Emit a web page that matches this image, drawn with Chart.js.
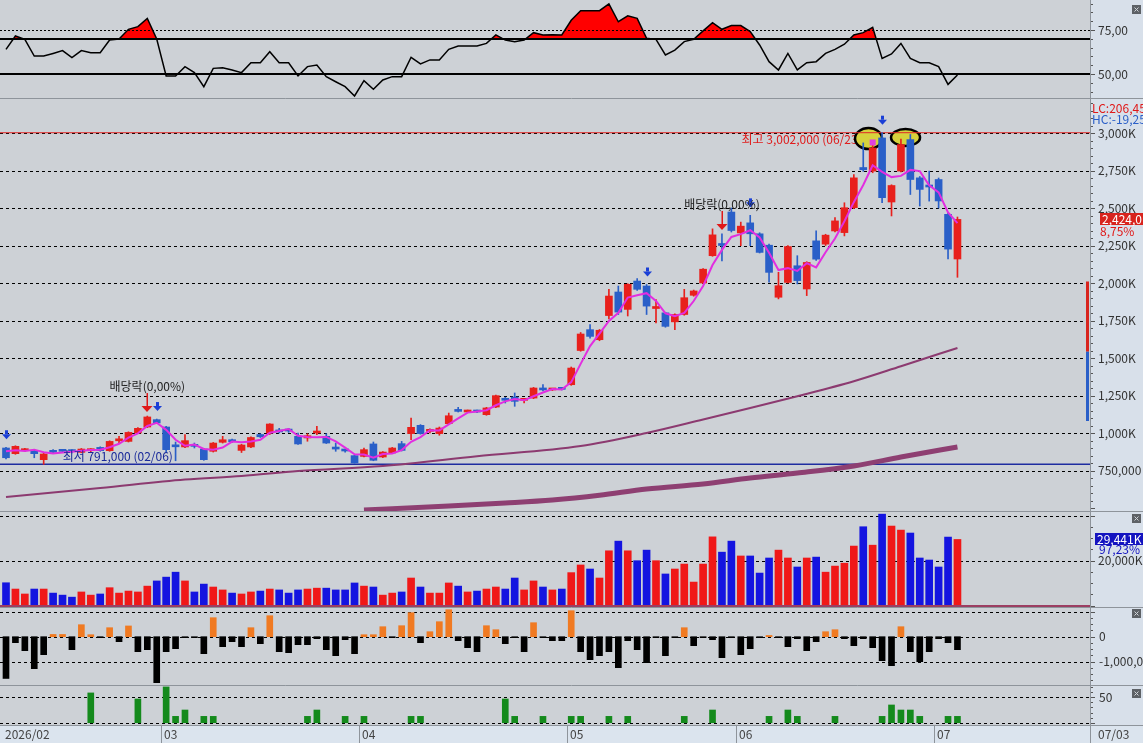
<!DOCTYPE html>
<html>
<head>
<meta charset="utf-8">
<title>price chart</title>
<script src="https://cdn.jsdelivr.net/npm/chart.js@4.4.1/dist/chart.umd.min.js"></script>
<style>
  html, body { margin: 0; padding: 0; background: #cdd1d6; overflow: hidden; }
  #wrap { position: relative; width: 1143px; height: 743px; }
  canvas { position: absolute; left: 0; }
</style>
</head>
<body>
<div id="wrap">
  <canvas id="rsiChart" width="1143" height="99" style="top:0px"></canvas>
  <canvas id="priceChart" width="1143" height="412" style="top:99px"></canvas>
  <canvas id="volChart" width="1143" height="96" style="top:511px"></canvas>
  <canvas id="flowChart" width="1143" height="78" style="top:607px"></canvas>
  <canvas id="tradeChart" width="1143" height="58" style="top:685px"></canvas>
</div>
<script>
// daily candles, prices in thousand won (2026/02/02 .. 2026/07/03)
var opens = [900,862,882,882,822,878,885,884,871,882,
  904,882,948,944,1000,1040,1089,1040,915,907,
  920,893,878,938,955,884,907,990,1000,1013,
  1020,978,967,1000,978,900,888,849,844,927,
  840,867,929,996,1051,1011,996,1062,1149,1140,
  1149,1122,1173,1227,1240,1218,1233,1295,1287,1296,
  1322,1550,1689,1622,1783,1940,1824,2013,1980,1830,
  1801,1741,1790,1918,2000,2182,2258,2473,2334,2401,
  2328,2252,1905,2004,2115,1960,2281,2259,2347,2336,
  2502,2770,2746,2967,2540,2746,2956,2701,2650,2690,
  2458,2160];
var highs = [905,915,897,886,865,890,890,890,897,896,
  908,948,978,1008,1036,1113,1093,1044,940,989,
  933,897,937,978,960,925,975,995,1062,1031,
  1031,1000,995,1044,995,933,893,852,900,940,
  876,904,944,1100,1056,1027,1040,1133,1171,1153,
  1153,1171,1253,1238,1267,1228,1304,1322,1297,1300,
  1440,1670,1723,1690,1957,1980,1995,2030,1990,1890,
  1805,1794,1958,1953,2096,2361,2327,2500,2406,2451,
  2335,2260,2071,2250,2182,2142,2347,2325,2436,2535,
  2723,2934,2950,3002,2655,2960,2990,2710,2746,2700,
  2465,2440];
var lows = [828,858,878,835,791,866,872,868,868,876,
  878,878,930,940,996,1036,1062,873,815,903,
  900,818,873,933,938,870,903,970,990,1000,
  1004,924,945,989,930,878,873,798,840,815,
  836,863,880,955,992,1000,985,1058,1140,1136,
  1136,1118,1169,1200,1178,1200,1229,1280,1283,1287,
  1318,1545,1633,1615,1760,1790,1780,1950,1790,1734,
  1705,1689,1785,1912,1995,2178,2148,2340,2249,2249,
  2200,2005,1894,2000,1994,1916,2150,2250,2340,2314,
  2495,2745,2735,2535,2447,2740,2590,2513,2546,2500,
  2160,2038];
var closes = [835,911,893,862,860,871,878,876,893,889,
  882,944,958,1004,1031,1107,1067,889,908,949,
  911,822,933,955,942,920,970,975,1060,1007,
  1013,927,982,1006,933,893,880,800,889,818,
  873,900,884,1038,996,1022,1033,1115,1144,1149,
  1140,1167,1249,1218,1211,1224,1300,1287,1293,1291,
  1433,1660,1644,1685,1913,1806,1991,1958,1846,1836,
  1711,1790,1902,1947,2092,2321,2250,2350,2379,2328,
  2204,2071,1982,2243,2016,2137,2159,2319,2414,2502,
  2701,2755,2900,2569,2650,2923,2690,2624,2640,2547,
  2226,2424];

// short moving average (magenta)
var maShort = [878,885,880,889,872,864,870,875,882,886,
  888,905,928,969,998,1047,1068,1021,955,915,
  923,894,889,903,943,939,944,955,1002,1014,
  1027,982,974,972,974,944,902,858,856,836,
  860,864,886,941,973,1019,1017,1057,1097,1136,
  1144,1152,1185,1211,1226,1218,1245,1270,1293,1290,
  1339,1461,1579,1663,1747,1801,1903,1918,1932,1880,
  1798,1779,1801,1880,1980,2120,2221,2307,2326,2352,
  2304,2201,2086,2099,2080,2132,2104,2205,2297,2412,
  2539,2653,2785,2741,2706,2714,2754,2746,2651,2604,
  2471,2399];

// long averages, read at a few days
var maMidAt = [0,10,19,25,31,40,50,61,68,74,79,84,90,95,101];
var maMid = [573,633,690,713,747,780,845,913,1000,1090,1167,1245,1345,1445,1567];
var maLongAt = [38,47,53,58,63,68,74,79,84,90,95,101];
var maLong = [487,513,533,553,585,627,660,700,733,780,840,907];

// volume in thousand shares
var volumes = [10200,7400,5200,7400,7400,5600,4700,3800,6100,4700,
  5200,8000,5600,6500,6100,8700,11000,12700,14900,11000,
  6100,9600,8300,7000,5600,5200,6100,6500,7400,7000,
  5600,7000,7400,7800,7800,7000,7000,10100,8700,8300,
  4700,5600,6100,12300,8300,5600,5600,10100,8700,6100,
  6500,7400,8300,7400,12300,7000,11000,8300,7000,7400,
  14700,18100,16300,12300,24400,28700,24400,20000,24700,20000,
  14100,16300,18500,10500,18500,30600,23800,28700,22100,22100,
  14500,21200,24700,21200,17200,21200,21600,14900,17600,18900,
  26500,35100,26900,40700,35400,33600,32300,21200,20300,17200,
  30500,29441];

// net buying, thousands
var flowK = [-1670,-240,-560,-1280,-720,90,90,-520,480,80,
  -40,360,-200,430,-600,-520,-1840,-600,-480,-40,
  -20,-680,760,-400,-200,-400,360,-280,840,-600,
  -640,-320,-320,-80,-520,-760,-120,-680,80,80,
  400,-40,440,960,-240,200,600,1080,-160,-440,
  -600,440,280,-280,-40,-600,560,-40,-160,-160,
  1040,-600,-920,-760,-600,-1240,-160,-520,-1040,-40,
  -760,-40,360,-360,-40,-120,-840,-40,-720,-480,
  -40,50,-40,-400,-80,-560,-200,200,280,-80,
  -360,-80,-440,-960,-1160,400,-600,-1000,-600,-80,
  -240,-520];

var tradeAt = [9,14,17,18,19,21,22,32,33,36,38,43,44,53,54,57,60,61,64,66,72,75,81,83,84,88,93,94,95,96,97,100,101];
var tradeVal = [58.6,46.7,70.4,12.5,25,12.5,12.5,12.5,25,12.5,12.5,12.5,12.5,46.7,12.5,12.5,12.5,12.5,12.5,12.5,12.5,25,12.5,25,12.5,12.5,12.5,34.9,25,25,12.5,12.5,12.5];

var rsi = [64.0,71.6,69.7,60.2,60.2,61.7,63.3,59.3,63.3,62.1,
  62.1,69.3,69.9,75.4,76.9,81.6,69.9,48.9,48.9,54.2,
  50.8,42.8,53.2,53.6,52.3,50.8,56.4,56.4,62.7,56.4,
  56.4,48.9,54.2,55.1,48.5,45.6,42.8,37.5,46.2,41.3,
  46.6,48.5,48.5,59.5,55.7,58.0,58.0,64.0,65.9,65.9,
  65.9,67.4,72.2,69.3,68.4,69.3,73.5,72.2,72.3,72.2,
  80.5,86.0,86.0,86.0,89.8,79.7,83.1,81.6,70.3,69.7,
  60.8,63.6,68.4,69.7,74.5,79.2,75.4,77.5,77.5,74.1,
  66.5,57.0,52.3,61.7,52.3,56.4,57.0,61.7,64.0,66.9,
  72.2,73.5,76.5,58.9,61.4,67.4,58.9,56.4,56.4,54.2,
  44.1,49.4];

var priceTicks = [750,1000,1250,1500,1750,2000,2250,2500,2750,3000];
var monthStarts = [0,17,38,60,78,99];
var monthLabels = ['2026/02','03','04','05','06','07'];
var highMark = 3002, lowMark = 791;
var blueArrows = [0,16,68,79,93];
var redArrows = [15,76];
var rangeBar = [1080,1542,2010];

var RED = '#e8201c', BLUE = '#2a5fc8';
var VRED = '#f01818', VBLUE = '#1414e0';
var PLOT_BG = '#cdd1d6', AXIS_BG = '#d8e0ea', STRIP_BG = '#dbe4ee', SEP = '#8e949b';
var FONT = "12px 'Noto Sans CJK KR', 'DejaVu Sans', sans-serif";
var TXT = '#333333';

var idx = closes.map(function (c, i) { return i; });
var isUp = closes.map(function (c, i) { return c >= opens[i]; });
var candleColors = isUp.map(function (u) { return u ? RED : BLUE; });

function baseOptions(yMin, yMax, bottomPad) {
  return {
    responsive: false,
    animation: false,
    devicePixelRatio: 1,
    events: [],
    layout: { padding: { left: 0, right: 53, top: 0, bottom: bottomPad || 0 } },
    plugins: { legend: { display: false }, tooltip: { enabled: false } },
    scales: {
      x: { type: 'linear', min: -0.637, max: 115.07, offset: false, display: false },
      y: { min: yMin, max: yMax, display: false }
    }
  };
}

function paintPane(c) {
  var ctx = c.ctx, a = c.chartArea;
  ctx.save();
  ctx.fillStyle = AXIS_BG;
  ctx.fillRect(a.right, 0, c.width - a.right, c.height);
  ctx.fillStyle = PLOT_BG;
  ctx.fillRect(0, a.top, a.right, a.bottom - a.top);
  ctx.restore();
}

function hLine(c, v, color, width, dash) {
  var ctx = c.ctx, a = c.chartArea;
  var y = c.scales.y.getPixelForValue(v);
  y = width % 2 ? Math.round(y) + 0.5 : Math.round(y);
  ctx.save();
  ctx.strokeStyle = color;
  ctx.lineWidth = width;
  ctx.setLineDash(dash || []);
  ctx.beginPath();
  ctx.moveTo(a.left, y);
  ctx.lineTo(a.right, y);
  ctx.stroke();
  ctx.restore();
}

function label(ctx, text, x, y, color, align) {
  ctx.save();
  ctx.font = FONT;
  ctx.fillStyle = color;
  ctx.textAlign = align || 'left';
  ctx.textBaseline = 'middle';
  ctx.fillText(text, x, y);
  ctx.restore();
}

function axisTicks(c, step, major) {
  var ctx = c.ctx, a = c.chartArea, s = c.scales.y;
  ctx.save();
  ctx.strokeStyle = '#555';
  ctx.lineWidth = 1;
  ctx.beginPath();
  for (var v = Math.ceil(s.min / step) * step; v <= s.max; v += step) {
    var y = Math.round(s.getPixelForValue(v)) + 0.5;
    var len = Math.abs(v % major) < 1e-6 ? 5 : 3;
    ctx.moveTo(a.right, y);
    ctx.lineTo(a.right + len, y);
  }
  ctx.stroke();
  ctx.restore();
}

function frame(c, withTop) {
  var ctx = c.ctx, a = c.chartArea;
  ctx.save();
  ctx.strokeStyle = SEP;
  ctx.lineWidth = 1;
  ctx.beginPath();
  ctx.moveTo(a.right + 0.5, 0);
  ctx.lineTo(a.right + 0.5, c.height);
  if (withTop) {
    ctx.moveTo(0, 0.5);
    ctx.lineTo(c.width, 0.5);
  }
  ctx.stroke();
  ctx.restore();
}

function closeIcon(ctx, x, y) {
  ctx.save();
  ctx.fillStyle = '#5d6166';
  ctx.fillRect(x, y, 9, 9);
  ctx.strokeStyle = '#d0d4d8';
  ctx.lineWidth = 1;
  ctx.beginPath();
  ctx.moveTo(x + 2.5, y + 2.5); ctx.lineTo(x + 6.5, y + 6.5);
  ctx.moveTo(x + 6.5, y + 2.5); ctx.lineTo(x + 2.5, y + 6.5);
  ctx.stroke();
  ctx.restore();
}

function priceLabel(v) {
  return v >= 1000 ? (v / 1000).toFixed(3).replace('.', ',') + 'K' : v + ',000';
}

// ---------- top oscillator ----------
var rsiDecor = {
  id: 'rsiDecor',
  beforeDraw: function (c) { paintPane(c); },
  afterDatasetsDraw: function (c) {
    hLine(c, 75, '#000', 1, [2, 2]);
    hLine(c, 70, '#000', 2);
    hLine(c, 50, '#000', 2);
  },
  afterDraw: function (c) {
    var ctx = c.ctx, a = c.chartArea, s = c.scales.y;
    axisTicks(c, 5, 25);
    label(ctx, '75,00', a.right + 8, s.getPixelForValue(75), TXT);
    label(ctx, '50,00', a.right + 8, s.getPixelForValue(50), TXT);
    ctx.save();
    ctx.strokeStyle = SEP;
    ctx.beginPath();
    ctx.moveTo(0, c.height - 0.5);
    ctx.lineTo(c.width, c.height - 0.5);
    ctx.stroke();
    ctx.restore();
    frame(c, false);
    closeIcon(ctx, a.right + 42, 5);
  }
};

new Chart('rsiChart', {
  type: 'line',
  data: {
    datasets: [{
      data: rsi.map(function (v, i) { return { x: i, y: v }; }),
      borderColor: '#000',
      borderWidth: 1.5,
      pointRadius: 0,
      tension: 0,
      fill: { target: { value: 70 }, above: '#ff0000', below: 'rgba(0,0,0,0)' }
    }]
  },
  options: baseOptions(35.8, 92.05, 0),
  plugins: [rsiDecor]
});

// ---------- price ----------
function blueArrow(ctx, x, tip) {
  ctx.fillStyle = '#1a3fd6';
  ctx.fillRect(x - 1.5, tip - 9, 3, 4);
  ctx.beginPath();
  ctx.moveTo(x - 4.5, tip - 5);
  ctx.lineTo(x + 4.5, tip - 5);
  ctx.lineTo(x, tip);
  ctx.closePath();
  ctx.fill();
}

function redArrow(ctx, x, tip) {
  ctx.fillStyle = '#e01818';
  ctx.fillRect(x - 0.5, tip - 19, 1.5, 14);
  ctx.beginPath();
  ctx.moveTo(x - 5.5, tip - 6);
  ctx.lineTo(x + 5.5, tip - 6);
  ctx.lineTo(x, tip);
  ctx.closePath();
  ctx.fill();
}

var priceDecor = {
  id: 'priceDecor',
  beforeDraw: function (c) {
    paintPane(c);
    priceTicks.forEach(function (v) { hLine(c, v, '#000', 1, [3, 3]); });
  },
  beforeDatasetsDraw: function (c) {
    var ctx = c.ctx, x = c.scales.x, y = c.scales.y;
    label(ctx, '최고 3,002,000 (06/23)', x.getPixelForValue(92) - 11, y.getPixelForValue(highMark) + 7, '#e01a1a', 'right');
    ctx.save();
    ctx.fillStyle = '#d6d23c';
    ctx.strokeStyle = '#000';
    ctx.lineWidth = 2.5;
    ctx.beginPath();
    ctx.ellipse(x.getPixelForValue(91.56), y.getPixelForValue(2963), 13.5, 10.5, 0, 0, Math.PI * 2);
    ctx.fill();
    ctx.stroke();
    ctx.beginPath();
    ctx.ellipse(x.getPixelForValue(95.49), y.getPixelForValue(2970), 14.5, 8.5, 0, 0, Math.PI * 2);
    ctx.fill();
    ctx.stroke();
    ctx.restore();
  },
  afterDatasetsDraw: function (c) {
    var ctx = c.ctx, a = c.chartArea, x = c.scales.x, y = c.scales.y;
    ctx.save();
    blueArrows.forEach(function (i) {
      blueArrow(ctx, Math.round(x.getPixelForValue(i)) + 0.5, y.getPixelForValue(highs[i]) - 8);
    });
    redArrows.forEach(function (i) {
      redArrow(ctx, Math.round(x.getPixelForValue(i)), y.getPixelForValue(highs[i]) - 4);
    });
    ctx.fillStyle = '#e040e0';
    ctx.fillRect(x.getPixelForValue(92) - 3, y.getPixelForValue(2937) - 3, 6, 6);
    ctx.restore();

    redArrows.forEach(function (i) {
      label(ctx, '배당락(0,00%)', x.getPixelForValue(i), y.getPixelForValue(highs[i]) - 30, '#222', 'center');
    });
    label(ctx, '최저 791,000 (02/06)', x.getPixelForValue(4) + 19, y.getPixelForValue(lowMark) - 8, '#1a2a9a');

    // day range marker on the right edge
    ctx.save();
    ctx.fillStyle = '#d8241e';
    ctx.fillRect(a.right - 4, y.getPixelForValue(rangeBar[2]), 3, y.getPixelForValue(rangeBar[1]) - y.getPixelForValue(rangeBar[2]));
    ctx.fillStyle = '#2a5fc8';
    ctx.fillRect(a.right - 4, y.getPixelForValue(rangeBar[1]), 3, y.getPixelForValue(rangeBar[0]) - y.getPixelForValue(rangeBar[1]));
    ctx.restore();
  },
  afterDraw: function (c) {
    var ctx = c.ctx, a = c.chartArea, y = c.scales.y;
    axisTicks(c, 50, 250);
    priceTicks.forEach(function (v) {
      label(ctx, priceLabel(v), a.right + 8, y.getPixelForValue(v), TXT);
    });
    label(ctx, 'LC:206,45', a.right + 2, 9, '#e01818');
    label(ctx, 'HC:-19,25', a.right + 2, 20, '#2a5fc8');
    var last = closes[closes.length - 1];
    var py = y.getPixelForValue(last);
    ctx.save();
    ctx.fillStyle = '#d8241e';
    ctx.fillRect(a.right + 10, Math.round(py) - 6, 43, 12);
    ctx.restore();
    label(ctx, '2,424,0', a.right + 12, py, '#ffffff');
    label(ctx, '8,75%', a.right + 10, py + 12, '#e01818');
    frame(c, false);
  }
};

new Chart('priceChart', {
  type: 'bar',
  data: {
    datasets: [
      {
        type: 'line', order: 1,
        data: maShort.map(function (v, i) { return { x: i, y: v }; }),
        borderColor: '#e22ee0', borderWidth: 2, pointRadius: 0, tension: 0
      },
      {
        type: 'line', order: 1,
        data: maMidAt.map(function (d, k) { return { x: d, y: maMid[k] }; }),
        borderColor: '#8c3a70', borderWidth: 2, pointRadius: 0, cubicInterpolationMode: 'monotone'
      },
      {
        type: 'line', order: 1,
        data: maLongAt.map(function (d, k) { return { x: d, y: maLong[k] }; }),
        borderColor: '#8e3f72', borderWidth: 5, pointRadius: 0, cubicInterpolationMode: 'monotone'
      },
      {
        type: 'line', order: 5,
        data: [{ x: -1, y: highMark }, { x: 117, y: highMark }],
        borderColor: '#e02828', borderWidth: 1, pointRadius: 0
      },
      {
        type: 'line', order: 5,
        data: [{ x: -1, y: lowMark }, { x: 117, y: lowMark }],
        borderColor: '#1e2ca0', borderWidth: 1.5, pointRadius: 0
      },
      {
        order: 3, grouped: false,
        data: idx.map(function (i) { return { x: i, y: [lows[i], highs[i]] }; }),
        backgroundColor: candleColors, barThickness: 1, borderWidth: 0
      },
      {
        order: 2, grouped: false,
        data: idx.map(function (i) { return { x: i, y: [Math.min(opens[i], closes[i]), Math.max(opens[i], closes[i])] }; }),
        backgroundColor: candleColors, barThickness: 7, minBarLength: 2, borderWidth: 0
      }
    ]
  },
  options: baseOptions(480, 3226.7, 0),
  plugins: [priceDecor]
});

// ---------- volume ----------
var volDecor = {
  id: 'volDecor',
  beforeDraw: function (c) {
    paintPane(c);
    hLine(c, 20000, '#000', 1, [3, 3]);
    hLine(c, 40000, '#000', 1, [3, 3]);
  },
  afterDatasetsDraw: function (c) { hLine(c, 0, '#9c3e62', 2); },
  afterDraw: function (c) {
    var ctx = c.ctx, a = c.chartArea, y = c.scales.y;
    axisTicks(c, 5000, 20000);
    label(ctx, '20,000K', a.right + 8, y.getPixelForValue(20000), TXT);
    var vy = y.getPixelForValue(volumes[volumes.length - 1]);
    ctx.save();
    ctx.fillStyle = AXIS_BG;
    ctx.fillRect(a.right + 6, Math.round(vy) + 5, 46, 11);
    ctx.fillStyle = '#1414c0';
    ctx.fillRect(a.right + 5, Math.round(vy) - 6, 48, 12);
    ctx.restore();
    label(ctx, '29,441K', a.right + 7, vy, '#ffffff');
    label(ctx, '97,23%', a.right + 9, vy + 10, '#1414c0');
    frame(c, true);
    closeIcon(ctx, a.right + 42, 3);
  }
};

new Chart('volChart', {
  type: 'bar',
  data: {
    datasets: [{
      data: volumes.map(function (v, i) { return { x: i, y: v }; }),
      backgroundColor: isUp.map(function (u) { return u ? VRED : VBLUE; }),
      barThickness: 7, borderWidth: 0, grouped: false
    }]
  },
  options: baseOptions(-580, 42090, 0),
  plugins: [volDecor]
});

// ---------- net buying ----------
var flowDecor = {
  id: 'flowDecor',
  beforeDraw: function (c) {
    paintPane(c);
    hLine(c, 1000, '#000', 1, [3, 3]);
    hLine(c, 0, '#000', 1, [3, 3]);
    hLine(c, -1000, '#000', 1, [3, 3]);
  },
  afterDraw: function (c) {
    var ctx = c.ctx, a = c.chartArea, y = c.scales.y;
    axisTicks(c, 250, 1000);
    label(ctx, '0', a.right + 9, y.getPixelForValue(0), TXT);
    label(ctx, '-1,000,000', a.right + 9, y.getPixelForValue(-1000), TXT);
    frame(c, true);
    closeIcon(ctx, a.right + 42, 2);
  }
};

new Chart('flowChart', {
  type: 'bar',
  data: {
    datasets: [{
      data: flowK.map(function (v, i) { return { x: i, y: v }; }),
      backgroundColor: flowK.map(function (v) { return v > 0 ? '#f07a22' : '#000000'; }),
      barThickness: 6, borderWidth: 0, grouped: false, minBarLength: 1
    }]
  },
  options: baseOptions(-1932, 1188, 0),
  plugins: [flowDecor]
});

// ---------- trades + date strip ----------
var tradeDecor = {
  id: 'tradeDecor',
  beforeDraw: function (c) {
    paintPane(c);
    hLine(c, 50, '#000', 1, [3, 3]);
    hLine(c, 0, '#000', 1, [3, 3]);
  },
  afterDraw: function (c) {
    var ctx = c.ctx, a = c.chartArea, x = c.scales.x, y = c.scales.y;
    axisTicks(c, 10, 50);
    label(ctx, '50', a.right + 9, y.getPixelForValue(50), TXT);
    frame(c, true);
    closeIcon(ctx, a.right + 42, 4);

    var top = a.bottom;
    ctx.save();
    ctx.fillStyle = STRIP_BG;
    ctx.fillRect(0, top, c.width, c.height - top);
    ctx.strokeStyle = SEP;
    ctx.lineWidth = 1;
    ctx.beginPath();
    ctx.moveTo(0, top + 0.5);
    ctx.lineTo(c.width, top + 0.5);
    ctx.moveTo(a.right + 0.5, top);
    ctx.lineTo(a.right + 0.5, c.height);
    monthStarts.forEach(function (m, k) {
      if (k === 0) return;
      var sx = Math.round(x.getPixelForValue(m - 0.5)) + 0.5;
      ctx.moveTo(sx, top);
      ctx.lineTo(sx, c.height);
    });
    ctx.stroke();
    ctx.restore();
    monthStarts.forEach(function (m, k) {
      var sx = k === 0 ? 2 : Math.round(x.getPixelForValue(m - 0.5));
      label(ctx, monthLabels[k], sx + 3, top + 9, '#444');
    });
    label(ctx, '07/03', a.right + 8, top + 9, '#444');
  }
};

new Chart('tradeChart', {
  type: 'bar',
  data: {
    datasets: [{
      data: tradeAt.map(function (d, k) { return { x: d, y: tradeVal[k] }; }),
      backgroundColor: '#148a1c',
      barThickness: 6, borderWidth: 0, grouped: false
    }]
  },
  options: baseOptions(-4.5, 74.2, 18),
  plugins: [tradeDecor]
});
</script>
</body>
</html>
